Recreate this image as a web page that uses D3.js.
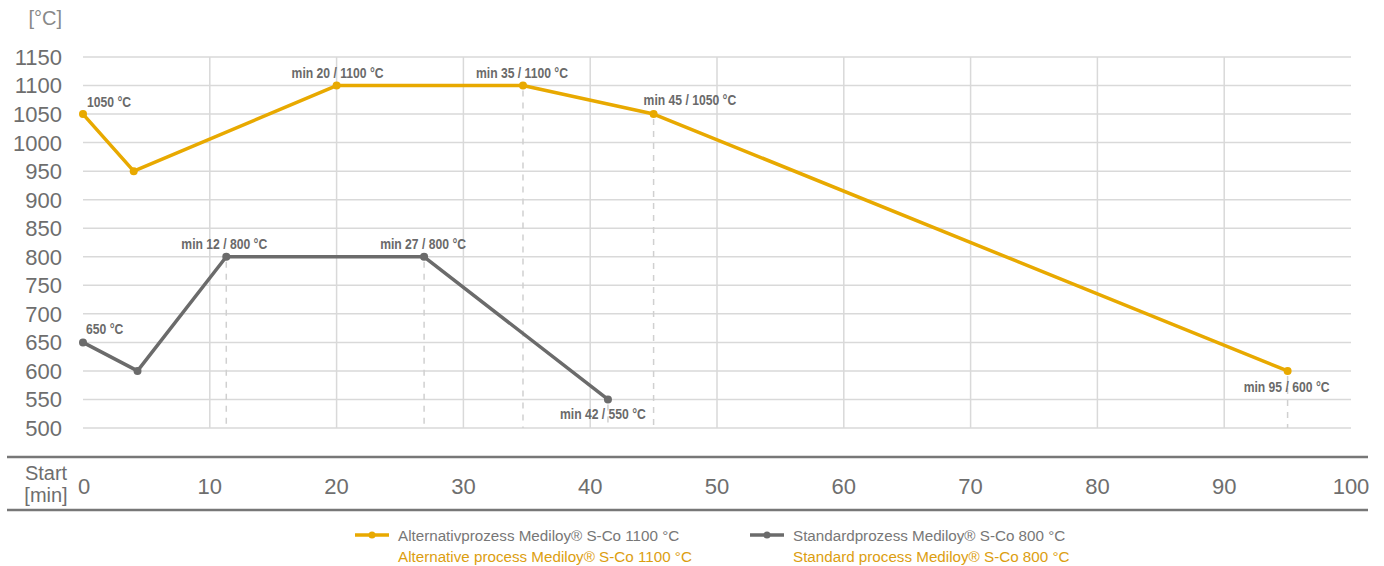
<!DOCTYPE html>
<html><head><meta charset="utf-8">
<script src="https://cdn.jsdelivr.net/npm/d3@7"></script>
<style>
html,body{margin:0;padding:0;background:#fff;}
svg{display:block;}
</style></head>
<body>
<svg id="c" width="1384" height="566"></svg>
<script>
// ---- data ----
const yTicks = [500,550,600,650,700,750,800,850,900,950,1000,1050,1100,1150];
const xTicks = [0,10,20,30,40,50,60,70,80,90,100];
const altMinutes = [0, 4, 20, 34.7, 45, 95];
const altTemps   = [1050, 950, 1100, 1100, 1050, 600];
const altLabels  = ["1050 °C", "", "min 20 / 1100 °C", "min 35 / 1100 °C", "min 45 / 1050 °C", "min 95 / 600 °C"];
const stdMinutes = [0, 4.3, 11.3, 26.9, 41.4];
const stdTemps   = [650, 600, 800, 800, 550];
const stdLabels  = ["650 °C", "", "min 12 / 800 °C", "min 27 / 800 °C", "min 42 / 550 °C"];
const legendDe = ["Alternativprozess Mediloy® S-Co 1100 °C", "Standardprozess Mediloy® S-Co 800 °C"];
const legendEn = ["Alternative process Mediloy® S-Co 1100 °C", "Standard process Mediloy® S-Co 800 °C"];

const GOLD = "#e8a900", GRAY = "#6b6b6b", GRID = "#d9d9d9", TXT = "#6e6e6e";
const svg = d3.select("#c");
const x = d3.scaleLinear().domain([0,100]).range([83,1351]);
const y = d3.scaleLinear().domain([500,1150]).range([428,57]);
const FONT = "'Liberation Sans', Arial, sans-serif";

function condense(sel, f){
  sel.each(function(){
    const w = this.getComputedTextLength();
    d3.select(this).attr("textLength", w*f).attr("lengthAdjust","spacingAndGlyphs");
  });
}

// grid
const g = svg.append("g");
g.selectAll("line.h").data(yTicks).join("line")
  .attr("x1", x(0)).attr("x2", x(100))
  .attr("y1", d=>y(d)).attr("y2", d=>y(d))
  .attr("stroke", GRID).attr("stroke-width", 1.5);
g.selectAll("line.v").data(xTicks.filter(d=>d>0 && d<100)).join("line")
  .attr("x1", d=>x(d)).attr("x2", d=>x(d))
  .attr("y1", y(1150)).attr("y2", y(500))
  .attr("stroke", GRID).attr("stroke-width", 1.5);

// y tick labels
svg.append("g").selectAll("text").data(yTicks).join("text")
  .attr("x", 62).attr("y", d=>y(d)).attr("dy", "0.36em")
  .attr("text-anchor","end").attr("font-family",FONT).attr("font-size",22)
  .attr("fill", TXT).text(d=>d);
svg.append("text").attr("x",62).attr("y",25).attr("text-anchor","end")
  .attr("font-family",FONT).attr("font-size",20).attr("fill","#888").text("[°C]");

// bottom band
[457,510].forEach(yy=>svg.append("line").attr("x1",7).attr("x2",1368)
  .attr("y1",yy).attr("y2",yy).attr("stroke","#777").attr("stroke-width",2.5));
svg.append("g").selectAll("text").data(xTicks).join("text")
  .attr("x", d=>x(d)+ (d===0?1:0)).attr("y", 486).attr("dy","0.36em")
  .attr("text-anchor","middle").attr("font-family",FONT).attr("font-size",22)
  .attr("fill",TXT).text(d=>d);
svg.append("text").attr("x",46).attr("y",480).attr("text-anchor","middle")
  .attr("font-family",FONT).attr("font-size",20).attr("fill",TXT).text("Start");
svg.append("text").attr("x",46).attr("y",502).attr("text-anchor","middle")
  .attr("font-family",FONT).attr("font-size",20).attr("fill",TXT).text("[min]");

// series
function series(mins, temps, labels, color, labelPos){
  const pts = mins.map((m,i)=>({m, t:temps[i], l:labels[i], i}));
  svg.append("g").selectAll("line").data(pts.filter(p=>p.l.startsWith("min") && p.m%10!==0)).join("line")
    .attr("x1",p=>x(p.m)).attr("x2",p=>x(p.m))
    .attr("y1",p=>y(p.t)+5).attr("y2",y(500))
    .attr("stroke","#d0d0d0").attr("stroke-width",1.5).attr("stroke-dasharray","6,6");
  const line = d3.line().x(p=>x(p.m)).y(p=>y(p.t));
  svg.append("path").datum(pts).attr("d",line).attr("fill","none")
    .attr("stroke",color).attr("stroke-width",3.5).attr("stroke-linejoin","round");
  svg.append("g").selectAll("circle").data(pts).join("circle")
    .attr("cx",p=>x(p.m)).attr("cy",p=>y(p.t)).attr("r",4).attr("fill",color);
  svg.append("g").selectAll("text").data(pts.filter(p=>p.l)).join("text")
    .attr("x",p=>x(p.m)+labelPos[p.i][0]).attr("y",p=>y(p.t)+labelPos[p.i][1])
    .attr("text-anchor",p=>labelPos[p.i][2])
    .attr("font-family",FONT).attr("font-weight","bold").attr("font-size",15)
    .attr("fill","#6a6a6a").text(p=>p.l).call(condense, 0.81);
}
series(altMinutes, altTemps, altLabels, GOLD,
  [[4,-7,"start"],null,[1,-8,"middle"],[-1,-8,"middle"],[-10,-9,"start"],[-1,21,"middle"]]);
series(stdMinutes, stdTemps, stdLabels, GRAY,
  [[3,-8,"start"],null,[-2,-8,"middle"],[-1,-8,"middle"],[-5,20,"middle"]]);

// legend
const lg = [{x0:355, c:GOLD},{x0:750, c:GRAY}];
lg.forEach((L,i)=>{
  svg.append("line").attr("x1",L.x0).attr("x2",L.x0+34).attr("y1",535).attr("y2",535)
    .attr("stroke",L.c).attr("stroke-width",3.5);
  svg.append("circle").attr("cx",L.x0+17).attr("cy",535).attr("r",3.5).attr("fill",L.c);
  svg.append("text").attr("x",L.x0+43).attr("y",541).attr("font-family",FONT)
    .attr("font-size",15.2).attr("fill","#777").text(legendDe[i]);
  svg.append("text").attr("x",L.x0+43).attr("y",562).attr("font-family",FONT)
    .attr("font-size",15.2).attr("fill","#dc9e10").text(legendEn[i]);
});
</script>
</body></html>
